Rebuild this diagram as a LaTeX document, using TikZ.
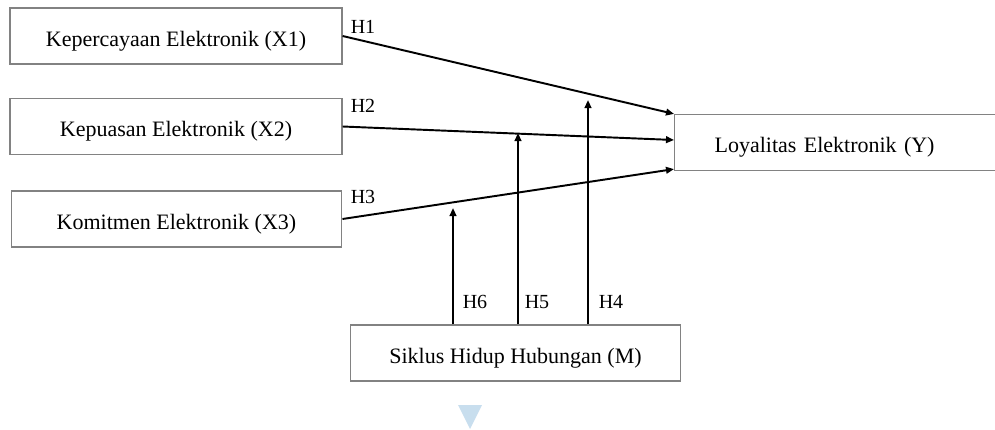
\documentclass[tikz,border=0pt]{standalone}
\usepackage{fontspec}
\setmainfont{Liberation Serif}
\usetikzlibrary{arrows.meta,calc}
\definecolor{boxline}{RGB}{130,130,130}
\definecolor{markblue}{RGB}{200,222,238}
\begin{document}
\begin{tikzpicture}[x=0.75pt,y=-0.75pt,
  varbox/.style={draw=boxline,line width=0.9pt,rectangle,inner sep=0pt,
    minimum height=42pt,text height=15pt,text depth=0pt,
    font=\fontsize{16.5}{19}\selectfont},
  path/.style={line width=1.45pt,-{Triangle[length=6pt,width=5pt]}},
  hyp/.style={font=\fontsize{15}{18}\selectfont,inner sep=0pt}]
\useasboundingbox (0,0) rectangle (995,429);
\clip (0,0) rectangle (995,429);
% variables
\node[varbox,minimum width=249pt] (x1) at (176,36) {Kepercayaan Elektronik (X1)};
\node[varbox,minimum width=249pt] (x2) at (176,126.5) {Kepuasan Elektronik (X2)};
\node[varbox,minimum width=248pt] (x3) at (176.5,219) {Komitmen Elektronik (X3)};
\node[varbox,minimum width=250pt,text width=190pt,align=left,inner xsep=29pt,anchor=west] (y) at (674,142.5) {Loyalitas Elektronik (Y)};
\node[varbox,minimum width=247pt] (m) at (515.5,353) {Siklus Hidup Hubungan (M)};
% direct paths
\draw[path] (x1.east) -- (y.north west);
\draw[path] (x2.east) -- ($(y.west)+(0,-2.5)$);
\draw[path] (x3.east) -- ($(y.south west)+(0,-2)$);
% moderating paths
\coordinate (t6) at (453,208);
\coordinate (t5) at (518,133);
\coordinate (t4) at (588,100);
\draw[path] (m.north -| t6) -- (t6);
\draw[path] (m.north -| t5) -- (t5);
\draw[path] (m.north -| t4) -- (t4);
% hypothesis labels
\node[hyp] (h1) at (363,27) {H1};
\node[hyp] (h2) at (363,106) {H2};
\node[hyp] (h3) at (363,197) {H3};
\node[hyp] (h6) at (475,302) {H6};
\node[hyp] (h5) at (537,302) {H5};
\node[hyp] (h4) at (611,302) {H4};
% small marker below
\fill[markblue] (458,405) -- (482,405) -- (470,429) -- cycle;
\end{tikzpicture}
\end{document}
